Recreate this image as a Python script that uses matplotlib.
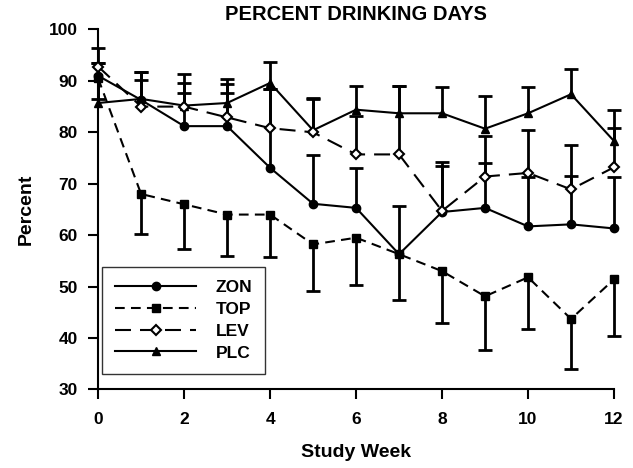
import matplotlib.pyplot as plt
import numpy as np

plt.rcParams['font.family'] = ['Liberation Sans', 'DejaVu Sans']
plt.rcParams['font.weight'] = 'bold'
plt.rcParams['lines.scale_dashes'] = False

# datos
weeks = [0, 1, 2, 3, 4, 5, 6, 7, 8, 9, 10, 11, 12]
zon = [91.0, 86.3, 81.2, 81.2, 73.1, 66.1, 65.3, 56.3, 64.5, 65.3, 61.7, 62.1, 61.3]
zon_up = [5.4, 5.4, 6.5, 6.5, 15.4, 9.4, 7.7, 9.4, 8.9, 8.7, 9.6, 9.4, 10.0]
top = [90.5, 68.0, 66.0, 64.0, 64.0, 58.2, 59.5, 56.3, 53.0, 48.1, 51.8, 43.7, 51.4]
top_down = [4.0, 7.7, 8.7, 8.0, 8.3, 9.0, 9.2, 9.0, 10.0, 10.4, 10.1, 9.7, 11.0]
lev = [92.8, 85.0, 85.0, 82.9, 80.8, 80.0, 75.7, 75.7, 64.7, 71.4, 72.1, 68.9, 73.2]
lev_up = [0.7, 5.1, 4.6, 6.5, 7.7, 6.5, 7.4, 13.4, 9.6, 7.9, 8.4, 8.7, 7.6]
plc = [85.7, 86.5, 85.2, 85.7, 89.6, 80.4, 84.4, 83.7, 83.7, 80.7, 83.7, 87.4, 78.3]
plc_up = [7.8, 5.2, 6.2, 4.7, 4.0, 6.2, 4.7, 5.4, 5.2, 6.3, 5.1, 4.9, 6.1]

fig = plt.figure(figsize=(6.33, 4.68), dpi=100)
ax = fig.add_axes([0.155, 0.168, 0.815, 0.769])

def barras(x, y, err, signo):
    # barra de error de un solo lado
    y = np.array(y)
    fin = y + signo * np.array(err)
    ax.vlines(x, y, fin, color='black', lw=2, zorder=2, clip_on=False)
    ax.plot(x, fin, ls='none', marker='_', ms=9.5, mew=2, color='black', zorder=2, clip_on=False)

barras(weeks, zon, zon_up, 1)
barras(weeks, top, top_down, -1)
barras(weeks, lev, lev_up, 1)
barras(weeks, plc, plc_up, 1)

l1, = ax.plot(weeks, zon, color='black', lw=1.5, marker='o', ms=6, label='ZON', zorder=3, clip_on=False)
l2, = ax.plot(weeks, top, color='black', lw=1.5, ls=(0, (7, 4.5)), marker='s', ms=5.5, label='TOP', zorder=3, clip_on=False)
l3, = ax.plot(weeks, lev, color='black', lw=1.5, ls=(0, (11.5, 6.5)), marker='D', ms=5, mfc='white', mew=1.5,
              label='LEV', zorder=4, clip_on=False)
l4, = ax.plot(weeks, plc, color='black', lw=1.5, marker='^', ms=6, label='PLC', zorder=3, clip_on=False)

ax.set_xlim(0, 12)
ax.set_ylim(30, 100)
ax.set_xticks([0, 2, 4, 6, 8, 10, 12])
ax.set_yticks([30, 40, 50, 60, 70, 80, 90, 100])
ax.spines['top'].set_visible(False)
ax.spines['right'].set_visible(False)
ax.spines['left'].set_linewidth(1.5)
ax.spines['bottom'].set_linewidth(1.5)
ax.tick_params(direction='out', length=7.2, width=1.5, labelsize=12.5)
ax.tick_params(axis='y', pad=7.5)
ax.tick_params(axis='x', pad=9)
for t in ax.get_xticklabels() + ax.get_yticklabels():
    t.set_fontweight('bold')

ax.set_xlabel('Study Week', fontsize=14, fontweight='bold', labelpad=12)
ax.set_ylabel('Percent', fontsize=14, fontweight='bold', labelpad=10)
fig.text(0.5625, 0.970, 'PERCENT DRINKING DAYS', ha='center', va='center', fontsize=14.5, fontweight='bold')

leg = ax.legend(handles=[l1, l2, l3, l4], loc='lower left', bbox_to_anchor=(0.007, 0.044),
                borderaxespad=0, fontsize=12.5, frameon=True, fancybox=False, edgecolor='black',
                numpoints=1, handlelength=4.7, handletextpad=1.1, labelspacing=0.38, borderpad=0.75)
leg.get_frame().set_linewidth(1)
for t in leg.get_texts():
    t.set_fontweight('bold')

fig.savefig('out.png', dpi=100)
